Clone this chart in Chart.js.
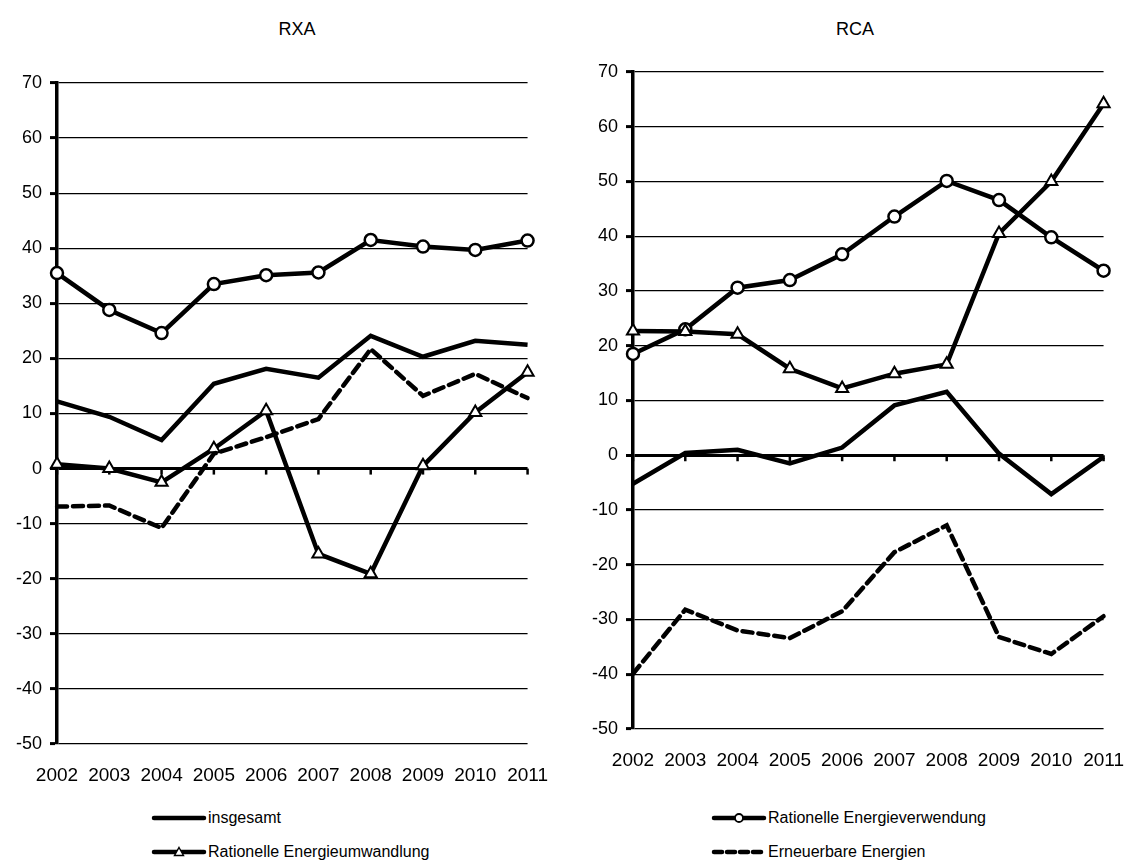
<!DOCTYPE html>
<html>
<head>
<meta charset="utf-8">
<script src="https://cdn.jsdelivr.net/npm/chart.js@4.4.1/dist/chart.umd.min.js"></script>
<style>
  body { margin: 0; background: #fff; font-family: "Liberation Sans", Arial, sans-serif; }
  #page { position: relative; width: 1136px; height: 867px; overflow: hidden; }
  .box { position: absolute; }
  .title { position: absolute; width: 200px; text-align: center; font-size: 18px; color: #000; }
  .leg { position: absolute; height: 20px; display: flex; align-items: center; font-size: 16px; color: #000; }
  .leg svg { margin-right: 1px; }
</style>
</head>
<body>
<div id="page">
  <div class="title" style="left:197px; top:19px;">RXA</div>
  <div class="title" style="left:755px; top:19px;">RCA</div>
  <div class="box" style="left:0; top:0; width:560px; height:784px;"><canvas id="rxaChart"></canvas></div>
  <div class="box" style="left:560px; top:0; width:576px; height:769px;"><canvas id="rcaChart"></canvas></div>

  <div class="leg" style="left:151px; top:808px;">
    <svg width="56" height="14"><line x1="3" y1="7" x2="53" y2="7" stroke="#000" stroke-width="4.5" stroke-linecap="round"/></svg>insgesamt
  </div>
  <div class="leg" style="left:711px; top:808px;">
    <svg width="56" height="14"><line x1="3" y1="7" x2="53" y2="7" stroke="#000" stroke-width="4.5" stroke-linecap="round"/><circle cx="28" cy="7" r="4" fill="#fff" stroke="#000" stroke-width="1.8"/></svg>Rationelle Energieverwendung
  </div>
  <div class="leg" style="left:151px; top:842px;">
    <svg width="56" height="14"><line x1="3" y1="7" x2="53" y2="7" stroke="#000" stroke-width="4.5" stroke-linecap="round"/><polygon points="28,2.5 32.5,10.5 23.5,10.5" fill="#fff" stroke="#000" stroke-width="1.4"/></svg>Rationelle Energieumwandlung
  </div>
  <div class="leg" style="left:711px; top:842px;">
    <svg width="56" height="14"><line x1="3" y1="7" x2="53" y2="7" stroke="#000" stroke-width="4.5" stroke-dasharray="8,5" stroke-linecap="round"/></svg>Erneuerbare Energien
  </div>
</div>

<script>
// Jahre und Werte
const years = ['2002', '2003', '2004', '2005', '2006', '2007', '2008', '2009', '2010', '2011'];

const rxaInsgesamt  = [12.2, 9.4, 5.2, 15.4, 18.1, 16.5, 24.1, 20.3, 23.2, 22.5];
const rxaVerwendung = [35.5, 28.8, 24.6, 33.5, 35.1, 35.6, 41.5, 40.3, 39.7, 41.4];
const rxaUmwandlung = [0.8, 0.0, -2.5, 3.6, 10.5, -15.5, -19.1, 0.5, 10.2, 17.5];
const rxaErneuerbar = [-6.9, -6.7, -10.8, 2.7, 5.7, 9.0, 21.7, 13.2, 17.2, 12.8];

const rcaInsgesamt  = [-5.2, 0.4, 1.0, -1.5, 1.4, 9.1, 11.6, 0.3, -7.1, -0.3];
const rcaVerwendung = [18.5, 23.0, 30.6, 32.0, 36.7, 43.6, 50.1, 46.6, 39.8, 33.7];
const rcaUmwandlung = [22.7, 22.6, 22.1, 15.8, 12.2, 14.9, 16.6, 40.5, 50.0, 64.2];
const rcaErneuerbar = [-39.9, -28.2, -32.0, -33.4, -28.5, -17.7, -12.8, -33.2, -36.3, -29.4];

const yMin = -50, yMax = 70, yStep = 10;

const font = "'Liberation Sans', Arial, sans-serif";
Chart.defaults.font.family = font;
Chart.defaults.color = '#000';

// kleine Striche an der Nulllinie, wie bei Excel
const zeroTicks = {
    id: 'zeroTicks',
    beforeDatasetsDraw(chart) {
        const x = chart.scales.x, y = chart.scales.y;
        const y0 = y.getPixelForValue(0);
        const c = chart.ctx;
        c.save();
        c.strokeStyle = '#000';
        c.lineWidth = 2.5;
        for (let i = 0; i < years.length; i++) {
            const px = x.getPixelForValue(i);
            c.beginPath();
            c.moveTo(px, y0);
            c.lineTo(px, y0 + 6);
            c.stroke();
        }
        c.restore();
    }
};

function makeDatasets(ins, verw, umw, ern) {
    return [
        { label: 'Erneuerbare Energien', data: ern, borderColor: '#000', borderWidth: 4.5,
          borderDash: [10, 6], borderCapStyle: 'round', pointRadius: 0, tension: 0, fill: false },
        { label: 'insgesamt', data: ins, borderColor: '#000', borderWidth: 4.5,
          pointRadius: 0, tension: 0, fill: false },
        { label: 'Rationelle Energieumwandlung', data: umw, borderColor: '#000', borderWidth: 4.5,
          pointStyle: 'triangle', pointRadius: 7, pointBorderWidth: 2,
          pointBackgroundColor: '#fff', pointBorderColor: '#000', tension: 0, fill: false },
        { label: 'Rationelle Energieverwendung', data: verw, borderColor: '#000', borderWidth: 4.5,
          pointStyle: 'circle', pointRadius: 6, pointBorderWidth: 2.5,
          pointBackgroundColor: '#fff', pointBorderColor: '#000', tension: 0, fill: false }
    ];
}

function makeChart(id, datasets, pad, yWidth) {
    return new Chart(document.getElementById(id), {
        type: 'line',
        data: { labels: years, datasets: datasets },
        options: {
            responsive: true,
            maintainAspectRatio: false,
            animation: false,
            events: [],
            layout: { padding: pad },
            plugins: {
                legend: { display: false },
                tooltip: { enabled: false }
            },
            scales: {
                x: {
                    offset: false,
                    grid: { display: false },
                    border: { display: false },
                    ticks: { padding: 12, maxRotation: 0, autoSkip: false, font: { size: 19 } },
                    afterFit(s) { s.height = 40; }
                },
                y: {
                    min: yMin,
                    max: yMax,
                    ticks: { stepSize: yStep, padding: 8, font: { size: 18 } },
                    grid: {
                        color: '#000',
                        lineWidth: c => (c.tick && c.tick.value === 0 ? 3 : 1.2),
                        tickLength: 7,
                        tickWidth: 3,
                        tickColor: '#000'
                    },
                    border: { display: true, color: '#000', width: 3.5 },
                    afterFit(s) { s.width = yWidth; }
                }
            }
        },
        plugins: [zeroTicks]
    });
}

makeChart('rxaChart', makeDatasets(rxaInsgesamt, rxaVerwendung, rxaUmwandlung, rxaErneuerbar),
    { top: 83, right: 20, bottom: 0, left: 0 }, 57);
makeChart('rcaChart', makeDatasets(rcaInsgesamt, rcaVerwendung, rcaUmwandlung, rcaErneuerbar),
    { top: 72, right: 22, bottom: 0, left: 0 }, 73);
</script>
</body>
</html>
